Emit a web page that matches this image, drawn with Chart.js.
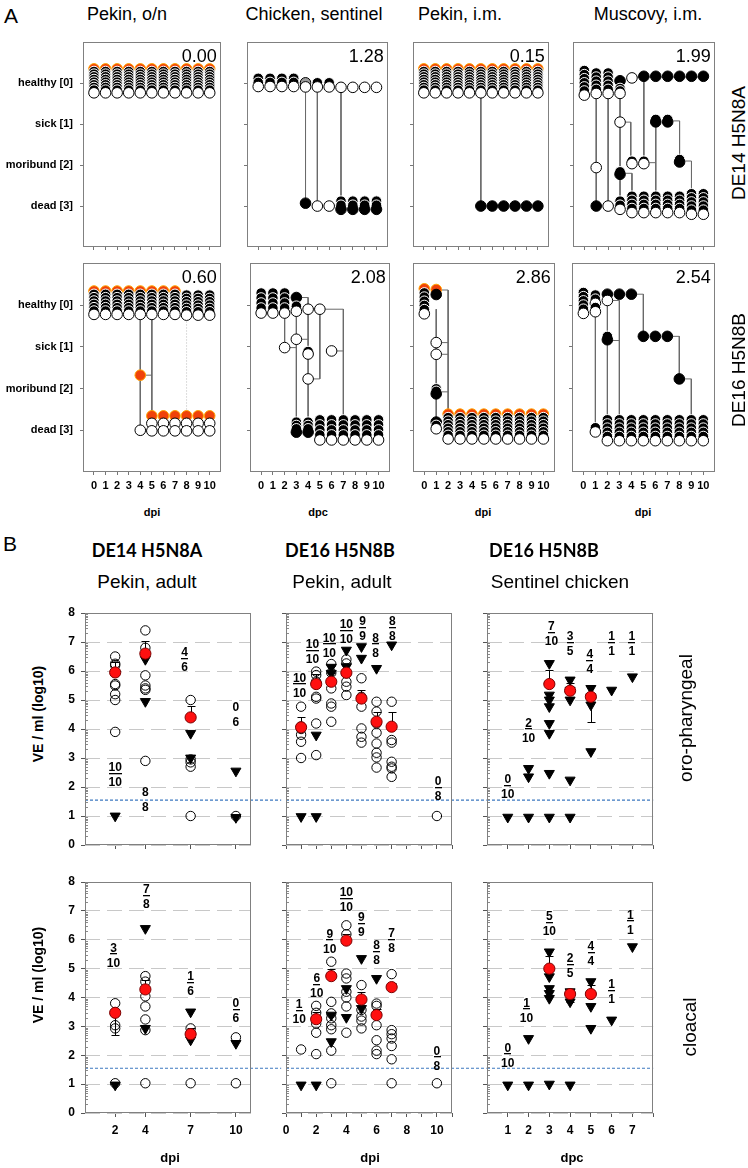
<!DOCTYPE html>
<html>
<head>
<meta charset="utf-8">
<title>Clinical scores and virus shedding</title>
<script src="https://cdn.jsdelivr.net/npm/chart.js@4.4.1/dist/chart.umd.min.js"></script>
<style>
  html, body { margin: 0; padding: 0; background: #fff; }
  body { position: relative; width: 748px; height: 1168px; overflow: hidden; font-family: "Liberation Sans", Arial, sans-serif; color: #000; }
  canvas { position: absolute; }
  .lbl { position: absolute; white-space: nowrap; line-height: 1; transform: translate(-50%, -50%); }
  .rot { transform: translate(-50%, -50%) rotate(-90deg); }
</style>
</head>
<body>
<script>
const FONT = '"Liberation Sans", Arial, sans-serif';

// ---------- panel A : clinical score per bird and day ----------
const dayTicks = [0, 1, 2, 3, 4, 5, 6, 7, 8, 9, 10];
const stateTicks = [0, 1, 2, 3];
const stateLabels = ['healthy [0]', 'sick [1]', 'moribund [2]', 'dead [3]'];
const aScores = ['0.00', '1.28', '0.15', '1.99', '0.60', '2.08', '2.86', '2.54'];
const aTitles = ['Pekin, o/n', 'Chicken, sentinel', 'Pekin, i.m.', 'Muscovy, i.m.'];
const aXTitles = ['dpi', 'dpc', 'dpi', 'dpi'];
const aRowTitles = ['DE14 H5N8A', 'DE16 H5N8B'];

// [day(s), score, birds from top to bottom (o orange, k black, b solid black, w white, g grey), step]
const a1Groups = [
  [[0, 1, 2, 3, 4, 5, 6, 7, 8, 9, 10], 0, 'okkkkkkkkw']
];
const a1Links = [];

const a2Groups = [
  [[0, 1, 2, 3], 0, 'kkw'],
  [4, 0.05, 'gw'],
  [[5, 6], 0.05, 'kw'],
  [[7, 8, 9, 10], 0.1, 'w'],
  [4, 2.93, 'b'],
  [[5, 6], 3.0, 'w'],
  [[7, 8, 9, 10], 3.0, 'kkb']
];
const a2Links = [
  [[4, 0.1], [4, 2.93]], [[5, 0.1], [5, 3]], [[7, 0.1], [7, 3]]
];

const a3Groups = [
  [[0, 1, 2, 3, 4, 5, 6, 7, 8, 9, 10], 0, 'okkkkkkkkw'],
  [[5, 6, 7, 8, 9, 10], 3, 'b']
];
const a3Links = [[[5, 0.2], [5, 3]]];

const a4Groups = [
  [0, 0.05, 'kkkkkkw'],
  [1, 0.05, 'kkkkkw'],
  [2, 0.05, 'kkkkkw'],
  [3, -0.06, 'b'],
  [3, 0.2, 'kkw', 0.06],
  [4, -0.13, 'w'],
  [[5, 6, 7, 8, 9, 10], -0.17, 'b'],
  [3, 0.95, 'w'],
  [[6, 7], 0.92, 'kb', 0.06],
  [1, 2.06, 'w'],
  [3, 2.2, 'kb', 0.06],
  [[4, 5], 1.94, 'kw', 0.06],
  [8, 1.9, 'kb', 0.06],
  [1, 3.0, 'b'],
  [2, 3.0, 'w'],
  [3, 3.0, 'kkw'],
  [[4, 5, 6, 7, 8], 3.0, 'kkkkw'],
  [[9, 10], 3.0, 'kkkkkw']
];
const a4Links = [
  [[1, 0.3], [1, 3]],
  [[2, 0.3], [2, 3]],
  [[3, 0.1], [3, 3]],
  [[3, 0.95], [3.9, 0.95], [3.9, 1.94]],
  [[3, 2.2], [4, 2.2], [4, 3]],
  [[4, -0.15], [10, -0.15]],
  [[5, -0.15], [5, 1.94], [6, 1.94]],
  [[6, 0.92], [6, 3]],
  [[7, 0.92], [8, 0.92], [8, 1.9], [9, 1.9], [9, 3]]
];

const a5Groups = [
  [[0, 1, 2, 3, 4, 5, 6, 7], 0, 'okkkkkkw'],
  [[8, 9, 10], 0.05, 'kkkkkkw'],
  [4, 1.68, 'o'],
  [4, 3.0, 'w'],
  [[5, 6, 7, 8, 9, 10], 2.87, 'oww', 0.18]
];
const a5Links = [
  [[4, 0.25], [4, 3]], [[4, 1.68], [5, 1.68]], [[5, 0.25], [5, 2.65]],
  [[4, 3], [10, 3]], [[5, 2.83], [10, 2.83]]
];
const a5Dotted = [[[8, 0.25], [8, 2.65]]];

const a6Groups = [
  [[0, 1, 2], 0, 'kkkkw'],
  [3, -0.18, 'b'],
  [3, 0.1, 'kw'],
  [[4, 5], 0.1, 'w'],
  [2, 1.02, 'w'],
  [3, 0.82, 'w'],
  [4, 1.15, 'kw', 0.06],
  [6, 1.1, 'w'],
  [4, 1.77, 'w'],
  [[3, 4], 2.95, 'kkkb', 0.08],
  [[5, 6, 7, 8, 9, 10], 3.04, 'kkkkw']
];
const a6Links = [
  [[2, 0.3], [2, 1.02], [3, 1.02]],
  [[3, -0.18], [4, -0.18], [4, 2.8]],
  [[3, 0.2], [3, 2.8]],
  [[4, 0.1], [7, 0.1], [7, 2.8]],
  [[5, 0.1], [5, 1.77], [4, 1.77]],
  [[6, 1.1], [7, 1.1]],
  [[3, 0.82], [4, 0.82]]
];

const a7Groups = [
  [0, -0.03, 'okkkkkw'],
  [1, -0.3, 'ob', 0.12],
  [1, 0.9, 'w'],
  [1, 1.18, 'w'],
  [1, 2.08, 'kkb', 0.06],
  [1, 2.9, 'bkw', 0.08],
  [[2, 3, 4, 5, 6, 7, 8, 9, 10], 2.97, 'okkkkkkw', 0.085]
];
const a7Links = [
  [[1, 0.1], [1, 2.85]],
  [[1, -0.36], [2, -0.36], [2, 2.61]],
  [[1, 0.9], [2, 0.9]], [[1, 1.18], [2, 1.18]], [[1, 2.08], [2, 2.08]]
];

const a8Groups = [
  [0, 0, 'kkkkkw'],
  [1, 0, 'kkwkw'],
  [2, -0.26, 'b'],
  [2, -0.11, 'w'],
  [[3, 4], -0.26, 'b'],
  [2, 0.8, 'kb', 0.08],
  [[5, 6, 7], 0.75, 'b'],
  [8, 1.77, 'b'],
  [1, 3.0, 'kw'],
  [[2, 3, 4, 5, 6, 7, 8, 9, 10], 3.05, 'kkkkkw']
];
const a8Links = [
  [[1, 0.2], [1, 3]],
  [[2, -0.11], [2, 2.76]],
  [[2, -0.11], [3, -0.11], [3, 2.76]],
  [[2, 0.85], [3, 0.85]],
  [[4, -0.26], [5, -0.26], [5, 0.75]],
  [[7, 0.75], [8, 0.75], [8, 1.77], [9, 1.77], [9, 2.76]]
];

// ---------- panel B : virus shedding (log10 VE/ml) ----------
const yTicksB = [0, 1, 2, 3, 4, 5, 6, 7, 8];
const lodValue = 1.55;
const bTitles = ['DE14 H5N8A', 'DE16 H5N8B', 'DE16 H5N8B'];
const bSubTitles = ['Pekin, adult', 'Pekin, adult', 'Sentinel chicken'];
const bXTitles = ['dpi', 'dpi', 'dpc'];
const bRowTitles = ['oro-pharyngeal', 'cloacal'];
const ticksPekinA = [2, 4, 7, 10];
const ticksPekinB = [0, 1, 2, 3, 4, 5, 6, 7, 8, 9, 10, 11];
const labelsPekinB = [0, 2, 4, 6, 8, 10];
const ticksChicken = [1, 2, 3, 4, 5, 6, 7, 8];
const labelsChicken = [1, 2, 3, 4, 5, 6, 7];

// oro-pharyngeal
const b1Circles = [[2, 6.5], [2, 6.25], [2, 6.2], [2, 5.55], [2, 5.5], [2, 5.2], [2, 5.0], [2, 3.9],
  [4, 7.4], [4, 6.8], [4, 5.85], [4, 5.5], [4, 5.4], [4, 5.35], [4, 2.9],
  [7, 5.0], [7, 2.95], [7, 2.85], [7, 2.7], [7, 1.0], [10, 1.0]];
const b1Tris = [[2, 1.0], [4, 6.4], [4, 4.95], [7, 3.85], [7, 3.0], [10, 2.55], [10, 0.95]];
const b1Means = [[2, 5.95, 6.3], [4, 6.6, 7.05], [7, 4.4, 4.8]];
const b1Fracs = [[2, 2.65, '10', '10', 1], [4, 1.8, '8', '8', 0], [6.6, 6.63, '4', '6', 1], [10, 4.72, '0', '6', 0]];

const b2Circles = [[1, 4.77], [1, 4.08], [1, 4.0], [1, 3.8], [1, 3.56], [1, 3.0],
  [2, 5.98], [2, 5.86], [2, 5.63], [2, 5.11], [2, 5.05], [2, 4.19], [2, 3.1],
  [3, 6.24], [3, 5.94], [3, 5.4], [3, 4.88], [3, 4.77], [3, 4.25],
  [4, 6.4], [4, 6.26], [4, 5.92], [4, 5.63], [4, 5.46], [4, 5.17],
  [5, 5.75], [5, 5.11], [5, 4.77], [5, 4.02], [5, 3.73], [5, 3.53],
  [6, 4.94], [6, 4.6], [6, 4.19], [6, 3.87], [6, 3.5], [6, 3.18], [6, 3.02], [6, 2.67],
  [7, 4.94], [7, 3.62], [7, 3.53], [7, 2.87], [7, 2.7], [7, 2.64], [7, 2.35], [10, 1.0]];
const b2Tris = [[1, 0.98], [2, 0.98], [2, 3.79], [3, 6.13], [3, 5.92], [4, 6.72], [4, 6.15],
  [5, 6.84], [5, 6.44], [6, 6.09], [7, 6.9]];
const b2Means = [[1, 4.06, 4.42], [2, 5.55, 5.9], [3, 5.63, 5.92], [4, 5.94, 6.2], [5, 5.05, 5.35], [6, 4.25, 4.6], [7, 4.08, 4.6]];
const b2Fracs = [[0.9, 5.75, '10', '10', 1], [1.75, 6.9, '10', '10', 1], [2.87, 7.13, '10', '10', 1], [4, 7.58, '10', '10', 1],
  [5.07, 7.7, '9', '9', 1], [5.93, 7.13, '8', '8', 1], [7.04, 7.7, '8', '8', 1], [10.07, 2.18, '0', '8', 1]];

const b3Circles = [];
const b3Tris = [[1, 0.96], [2, 2.64], [2, 2.35], [2, 0.96], [3, 6.26], [3, 5.17], [3, 5.0], [3, 4.77], [3, 4.19], [3, 3.85], [3, 2.47], [3, 0.96],
  [4, 5.69], [4, 5.34], [4, 5.0], [4, 2.24], [4, 0.96], [5, 5.4], [5, 5.11], [5, 4.83], [5, 3.22], [6, 5.34], [7, 5.8]];
const b3Means = [[3, 5.55, 6.03], [4, 5.32, 5.6], [5, 5.11, 4.25]];
const b3Fracs = [[1, 2.24, '0', '10', 1], [2, 4.19, '2', '10', 1], [3.1, 7.53, '7', '10', 1], [4, 7.18, '3', '5', 1],
  [4.95, 6.55, '4', '4', 1], [6, 7.18, '1', '1', 1], [6.97, 7.18, '1', '1', 1]];

// cloacal
const b4Circles = [[2, 3.8], [2, 3.04], [2, 2.93], [2, 1.03], [4, 4.74], [4, 4.55], [4, 4.04], [4, 3.69], [4, 3.24], [4, 2.87], [4, 1.03],
  [7, 2.93], [7, 1.03], [10, 2.62], [10, 1.03]];
const b4Tris = [[2, 0.97], [4, 6.39], [4, 2.93], [7, 3.5], [7, 2.53], [10, 2.41]];
const b4Means = [[2, 3.47, 2.7], [4, 4.28, 4.6], [7, 2.73, 2.95]];
const b4Fracs = [[1.89, 5.7, '3', '10', 1], [4.07, 7.72, '7', '8', 1], [7, 4.72, '1', '6', 1], [10, 3.77, '0', '6', 1]];

const b5Circles = [[1, 2.2], [2, 3.71], [2, 3.47], [2, 3.1], [2, 2.78], [2, 2.04],
  [3, 5.24], [3, 3.85], [3, 3.45], [3, 3.28], [3, 3.04], [3, 2.9], [3, 2.16], [3, 1.03],
  [4, 6.5], [4, 6.19], [4, 4.83], [4, 4.66], [4, 4.2], [4, 4.0], [4, 3.69], [4, 2.78],
  [5, 4.43], [5, 3.57], [5, 3.34], [5, 3.2], [5, 2.93],
  [6, 3.79], [6, 3.71], [6, 3.04], [6, 2.52], [6, 2.16], [6, 2.04],
  [7, 4.81], [7, 2.87], [7, 2.73], [7, 2.58], [7, 2.32], [7, 1.86], [7, 1.03], [10, 1.03]];
const b5Tris = [[1, 0.97], [2, 0.97], [3, 3.39], [3, 2.47], [4, 4.31], [4, 3.31], [5, 5.35], [5, 3.62], [6, 4.66]];
const b5Means = [[2, 3.25, 3.5], [3, 4.74, 5.0], [4, 5.97, 6.2], [5, 3.93, 4.2], [6, 3.39, 3.6], [7, 4.36, 4.5]];
const b5Fracs = [[0.87, 3.74, '1', '10', 1], [2.04, 4.64, '6', '10', 1], [2.9, 6.19, '9', '10', 1], [4, 7.62, '10', '10', 1],
  [5, 6.77, '9', '9', 1], [6, 5.78, '8', '8', 1], [7, 6.21, '7', '8', 1], [10, 2.13, '0', '8', 1]];

const b6Circles = [];
const b6Tris = [[1, 0.97], [2, 2.58], [2, 0.97], [3, 5.58], [3, 4.72], [3, 4.31], [3, 4.14], [3, 3.97], [3, 1.0],
  [4, 4.2], [4, 3.85], [4, 0.97], [5, 4.55], [5, 3.69], [5, 2.93], [6, 3.22], [7, 5.76]];
const b6Means = [[3, 5.0, 5.45], [4, 4.12, 3.85], [5, 4.12, 4.45]];
const b6Fracs = [[1, 2.24, '0', '10', 1], [1.9, 3.8, '1', '10', 1], [3, 6.79, '5', '10', 1], [4, 5.35, '2', '5', 1],
  [5, 5.76, '4', '4', 1], [6, 4.43, '1', '1', 1], [6.9, 6.85, '1', '1', 1]];

// ---------- helpers ----------
function place(box, pad) {
  const c = document.createElement('canvas');
  const w = box[2] - box[0] + pad[0] + pad[2];
  const h = box[3] - box[1] + pad[1] + pad[3];
  c.width = w; c.height = h;
  c.style.left = (box[0] - pad[0]) + 'px';
  c.style.top = (box[1] - pad[1]) + 'px';
  c.style.width = w + 'px';
  c.style.height = h + 'px';
  document.body.appendChild(c);
  return c;
}

function label(text, x, y, size, opts) {
  opts = opts || {};
  const el = document.createElement('div');
  el.className = 'lbl' + (opts.rot ? ' rot' : '');
  el.textContent = text;
  el.style.left = x + 'px';
  el.style.top = y + 'px';
  el.style.fontSize = size + 'px';
  if (opts.bold) el.style.fontWeight = 'bold';
  if (opts.family) el.style.fontFamily = opts.family;
  document.body.appendChild(el);
}

const fitW = w => s => { s.width = w; s.paddingTop = 0; s.paddingBottom = 0; };
const fitH = h => s => { s.height = h; s.paddingLeft = 0; s.paddingRight = 0; };
const setTicks = vals => s => { s.ticks = vals.map(v => ({ value: v })); };

const framePlugin = {
  id: 'frame',
  afterDraw(chart) {
    const a = chart.chartArea, ctx = chart.ctx;
    ctx.save();
    ctx.strokeStyle = '#808080';
    ctx.lineWidth = 1;
    ctx.strokeRect(Math.round(a.left) + 0.5, Math.round(a.top) + 0.5,
      Math.round(a.right - a.left) - 1, Math.round(a.bottom - a.top) - 1);
    ctx.restore();
  }
};

const STYLE = {
  o: ['#f0420a', '#ffa200'],
  k: ['#000000', '#ffffff'],
  b: ['#000000', '#000000'],
  w: ['#ffffff', '#000000'],
  g: ['#9a9a9a', '#000000']
};

function stack(groups, step) {
  const pts = [], bg = [], bd = [];
  groups.forEach(([days, state, pat, st]) => {
    const s = st || step, n = pat.length;
    [].concat(days).forEach(day => {
      for (let i = 0; i < n; i++) {
        pts.push({ x: day, y: state + (i - 0.6 * (n - 1)) * s });
        bg.push(STYLE[pat[i]][0]);
        bd.push(STYLE[pat[i]][1]);
      }
    });
  });
  return { pts, bg, bd };
}

function panelA(idx, box, groups, links, dotted, step) {
  const col = idx % 4, row = Math.floor(idx / 4);
  const padL = col === 0 ? 83 : 10;
  const c = place(box, [padL, 6, 6, 26]);
  const st = stack(groups, step);
  const datasets = [{
    data: st.pts, showLine: false, pointRadius: 5.3,
    pointBackgroundColor: st.bg, pointBorderColor: st.bd, pointBorderWidth: 1, order: 0
  }];
  links.forEach(l => datasets.push({
    data: l.map(p => ({ x: p[0], y: p[1] })), showLine: true, pointRadius: 0,
    borderColor: '#6a6a6a', borderWidth: 1, order: 1
  }));
  (dotted || []).forEach(l => datasets.push({
    data: l.map(p => ({ x: p[0], y: p[1] })), showLine: true, pointRadius: 0,
    borderColor: '#bbbbbb', borderWidth: 1, borderDash: [1, 2], order: 2
  }));
  const score = aScores[idx];
  new Chart(c, {
    type: 'scatter',
    data: { datasets },
    options: {
      responsive: false, animation: false, events: [],
      layout: { padding: { left: 0, top: 6, right: 6, bottom: 0 } },
      plugins: { legend: { display: false }, tooltip: { enabled: false } },
      scales: {
        x: {
          type: 'linear', min: -0.95, max: 10.95,
          afterBuildTicks: setTicks(dayTicks), afterFit: fitH(26),
          grid: { drawOnChartArea: false, tickLength: 3, color: '#777' },
          border: { display: false },
          ticks: { display: row === 1, autoSkip: false, maxRotation: 0, minRotation: 0, padding: 4,
            color: '#000', font: { family: FONT, size: 11, weight: 'bold' } }
        },
        y: {
          type: 'linear', reverse: true, min: -1, max: 4,
          afterBuildTicks: setTicks(stateTicks), afterFit: fitW(padL),
          grid: { drawOnChartArea: false, tickLength: 3, color: '#777' },
          border: { display: false },
          ticks: { display: col === 0, padding: 7, color: '#000',
            font: { family: FONT, size: 11, weight: 'bold' },
            callback: v => stateLabels[stateTicks.indexOf(v)] }
        }
      }
    },
    plugins: [framePlugin, {
      id: 'score',
      afterDraw(chart) {
        const a = chart.chartArea, ctx = chart.ctx;
        ctx.save();
        ctx.font = '18px ' + FONT;
        ctx.fillStyle = '#000';
        ctx.textAlign = 'right';
        ctx.textBaseline = 'middle';
        ctx.fillText(score, a.right - 4, a.top + 15);
        ctx.restore();
      }
    }]
  });
}

function panelB(box, pad, cfg) {
  const c = place(box, pad);
  const toPts = arr => arr.map(p => ({ x: p[0], y: p[1] }));
  const datasets = [
    { data: toPts(cfg.means), pointRadius: 5.6, pointBackgroundColor: '#ff1010', pointBorderColor: '#7a0000', pointBorderWidth: 1, order: 0 },
    { data: toPts(cfg.tris), pointStyle: 'triangle', pointRotation: 180, pointRadius: 5.8,
      pointBackgroundColor: '#000', pointBorderColor: '#000', pointBorderWidth: 1, order: 1 },
    { data: toPts(cfg.circles), pointRadius: 4.7, pointBackgroundColor: 'rgba(255,255,255,0)',
      pointBorderColor: '#000', pointBorderWidth: 1, order: 2 },
    { data: cfg.lod.map(x => ({ x, y: lodValue })), showLine: true, pointRadius: 0, borderColor: '#3d78c0',
      borderWidth: 1.2, borderDash: [3, 2], clip: false, order: 3 }
  ];
  const means = cfg.means, fracs = cfg.fracs;
  new Chart(c, {
    type: 'scatter',
    data: { datasets },
    options: {
      responsive: false, animation: false, events: [],
      layout: { padding: { left: 0, top: pad[1], right: pad[2], bottom: 0 } },
      plugins: { legend: { display: false }, tooltip: { enabled: false } },
      scales: {
        x: {
          type: 'linear', min: 0, max: cfg.xMax,
          afterBuildTicks: setTicks(cfg.xTicks), afterFit: fitH(pad[3]),
          grid: { drawOnChartArea: false, tickLength: 4, color: '#555' },
          border: { display: false },
          ticks: { display: cfg.showX, autoSkip: false, maxRotation: 0, minRotation: 0, padding: 6,
            color: '#000', font: { family: FONT, size: 12, weight: 'bold' },
            callback: v => cfg.xLabels.includes(v) ? String(v) : '' }
        },
        y: {
          type: 'linear', min: 0, max: 8,
          afterBuildTicks: setTicks(yTicksB), afterFit: fitW(pad[0]),
          grid: { drawOnChartArea: true, color: '#c8c8c8', tickColor: '#555', tickLength: 4 },
          border: { display: false, dash: [15, 7] },
          ticks: { display: cfg.showY, padding: 6, color: '#000',
            font: { family: FONT, size: 12, weight: 'bold' } }
        }
      }
    },
    plugins: [{
      id: 'errorBars',
      beforeDatasetsDraw(chart) {
        const xs = chart.scales.x, ys = chart.scales.y, ctx = chart.ctx;
        ctx.save();
        ctx.strokeStyle = '#000';
        ctx.lineWidth = 1;
        means.forEach(([x, m, cap]) => {
          const px = Math.round(xs.getPixelForValue(x)) + 0.5;
          const pm = ys.getPixelForValue(m), pc = Math.round(ys.getPixelForValue(cap)) + 0.5;
          ctx.beginPath();
          ctx.moveTo(px, pm); ctx.lineTo(px, pc);
          ctx.moveTo(px - 4, pc); ctx.lineTo(px + 4, pc);
          ctx.stroke();
        });
        ctx.restore();
      },
      afterDraw(chart) {
        const xs = chart.scales.x, ys = chart.scales.y, ctx = chart.ctx, a = chart.chartArea;
        ctx.save();
        // minor log ticks on the left axis
        ctx.strokeStyle = '#8a8a8a';
        ctx.lineWidth = 1;
        ctx.beginPath();
        for (let k = 0; k < 8; k++) {
          for (let m = 2; m <= 9; m++) {
            const py = Math.round(ys.getPixelForValue(k + Math.log10(m))) + 0.5;
            ctx.moveTo(a.left, py); ctx.lineTo(a.left + 3, py);
          }
        }
        ctx.stroke();
        // positive / tested counts
        ctx.fillStyle = '#000';
        ctx.font = 'bold 12px ' + FONT;
        ctx.textAlign = 'center';
        ctx.textBaseline = 'middle';
        fracs.forEach(([x, y, num, den, ul]) => {
          const px = xs.getPixelForValue(x), py = ys.getPixelForValue(y);
          ctx.fillText(num, px, py);
          if (ul) {
            const w = ctx.measureText(num).width;
            ctx.fillRect(Math.round(px - w / 2), Math.round(py + 5), Math.round(w), 1.3);
          }
          ctx.fillText(den, px, py + 15);
        });
        ctx.restore();
      }
    }, framePlugin]
  });
}

// ---------- panel A charts ----------
panelA(0, [83, 42, 221, 247], a1Groups, a1Links, null, 0.065);
panelA(1, [247, 42, 388, 247], a2Groups, a2Links, null, 0.1);
panelA(2, [413, 42, 549, 247], a3Groups, a3Links, null, 0.065);
panelA(3, [573, 42, 715, 247], a4Groups, a4Links, null, 0.1);
panelA(4, [83, 263, 221, 472], a5Groups, a5Links, a5Dotted, 0.08);
panelA(5, [250, 263, 390, 472], a6Groups, a6Links, null, 0.12);
panelA(6, [413, 263, 555, 472], a7Groups, a7Links, null, 0.1);
panelA(7, [572, 263, 715, 472], a8Groups, a8Links, null, 0.1);

// ---------- panel B charts ----------
panelB([85, 613, 251, 845], [30, 10, 32, 30], { circles: b1Circles, tris: b1Tris, means: b1Means, fracs: b1Fracs,
  lod: [0, 13], xMax: 11, xTicks: ticksPekinA, xLabels: ticksPekinA, showX: false, showY: true });
panelB([286, 613, 452, 845], [10, 10, 36, 30], { circles: b2Circles, tris: b2Tris, means: b2Means, fracs: b2Fracs,
  lod: [0, 13.3], xMax: 11, xTicks: ticksPekinB, xLabels: labelsPekinB, showX: false, showY: false });
panelB([487, 613, 654, 845], [10, 10, 6, 30], { circles: b3Circles, tris: b3Tris, means: b3Means, fracs: b3Fracs,
  lod: [0, 8], xMax: 8, xTicks: ticksChicken, xLabels: labelsChicken, showX: false, showY: false });
panelB([85, 882, 251, 1113], [30, 10, 32, 30], { circles: b4Circles, tris: b4Tris, means: b4Means, fracs: b4Fracs,
  lod: [0, 13], xMax: 11, xTicks: ticksPekinA, xLabels: ticksPekinA, showX: true, showY: true });
panelB([286, 882, 452, 1113], [10, 10, 36, 30], { circles: b5Circles, tris: b5Tris, means: b5Means, fracs: b5Fracs,
  lod: [0, 13.3], xMax: 11, xTicks: ticksPekinB, xLabels: labelsPekinB, showX: true, showY: false });
panelB([487, 882, 654, 1113], [10, 10, 6, 30], { circles: b6Circles, tris: b6Tris, means: b6Means, fracs: b6Fracs,
  lod: [0, 8], xMax: 8, xTicks: ticksChicken, xLabels: labelsChicken, showX: true, showY: false });

// ---------- text ----------
label('A', 11, 15, 21);
label('B', 10, 543, 21);
[127, 314, 460, 648].forEach((x, i) => label(aTitles[i], x, 14, 18));
[152, 318, 483, 643].forEach((x, i) => label(aXTitles[i], x, 512, 11, { bold: true }));
label(aRowTitles[0], 738, 143, 19, { rot: true });
label(aRowTitles[1], 738, 370, 19, { rot: true });

[147, 340, 544].forEach((x, i) => label(bTitles[i], x, 550, 18, { bold: true, family: 'Lato, "Open Sans", sans-serif' }));
[147, 342, 560].forEach((x, i) => label(bSubTitles[i], x, 581, 19));
label('VE / ml (log10)', 38, 714, 14, { rot: true, bold: true });
label('VE / ml (log10)', 38, 975, 14, { rot: true, bold: true });
label(bRowTitles[0], 685, 718, 19, { rot: true });
label(bRowTitles[1], 689, 1027, 19, { rot: true });
[170, 370, 572].forEach((x, i) => label(bXTitles[i], x, 1157, 13, { bold: true }));
</script>
</body>
</html>
